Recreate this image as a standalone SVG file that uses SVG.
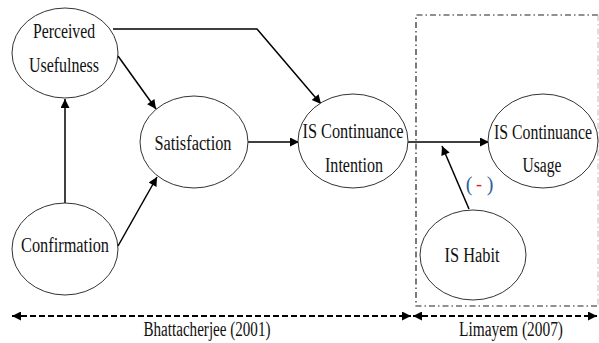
<svg xmlns="http://www.w3.org/2000/svg" width="599" height="343" viewBox="0 0 599 343">
<style>
.node ellipse{fill:#fff;stroke:#333;stroke-width:1}
.t{font-family:'Liberation Serif','Times New Roman',serif;font-size:20px;fill:#111;text-anchor:middle}
.conn line,.conn polyline{stroke:#000;stroke-width:1.5;fill:none}
.dash{stroke:#000;stroke-width:2;stroke-dasharray:6 3;fill:none}
</style>
<defs>
<marker id="ah" viewBox="0 0 10 10" refX="10" refY="5" markerWidth="11" markerHeight="9" markerUnits="userSpaceOnUse" orient="auto">
<path d="M0,0 L10,5 L0,10 z" fill="#000"/>
</marker>
<marker id="ahs" viewBox="0 0 10 10" refX="10" refY="5" markerWidth="10" markerHeight="9" markerUnits="userSpaceOnUse" orient="auto-start-reverse">
<path d="M0,0 L10,5 L0,10 z" fill="#000"/>
</marker>
</defs>
<rect width="599" height="343" fill="#fff"/>
<g id="region">
<path d="M598,15 H416 V306 H598" fill="none" stroke="#222" stroke-width="1.2" stroke-dasharray="6 3 1.5 3"/>
<line x1="598" y1="15" x2="598" y2="306" stroke="#bbb" stroke-width="1" stroke-dasharray="6 3 1.5 3"/>
</g>
<g class="conn" id="connectors">
<polyline points="113,29 257,29 321,104" marker-end="url(#ah)"/>
<line x1="118" y1="56" x2="156" y2="109" marker-end="url(#ah)"/>
<line x1="65" y1="203" x2="65" y2="99" marker-end="url(#ah)"/>
<line x1="118" y1="246" x2="157" y2="177" marker-end="url(#ah)"/>
<line x1="248" y1="142" x2="299" y2="142" marker-end="url(#ah)"/>
<line x1="408" y1="142" x2="489" y2="142" marker-end="url(#ah)"/>
<line x1="469" y1="209" x2="442" y2="146" marker-end="url(#ah)"/>
</g>
<g id="PU" class="node"><ellipse cx="65" cy="53" rx="53" ry="45"/>
<text class="t" x="64" y="38" textLength="62" lengthAdjust="spacingAndGlyphs">Perceived</text>
<text class="t" x="64" y="72" textLength="70" lengthAdjust="spacingAndGlyphs">Usefulness</text></g>
<g id="SAT" class="node"><ellipse cx="194" cy="142" rx="54" ry="46"/>
<text class="t" x="193" y="150" textLength="77" lengthAdjust="spacingAndGlyphs">Satisfaction</text></g>
<g id="ISCI" class="node"><ellipse cx="353" cy="141" rx="55" ry="47"/>
<text class="t" x="353" y="138" textLength="101" lengthAdjust="spacingAndGlyphs">IS Continuance</text>
<text class="t" x="354" y="172" textLength="58" lengthAdjust="spacingAndGlyphs">Intention</text></g>
<g id="ISCU" class="node"><ellipse cx="543" cy="141" rx="55" ry="47"/>
<text class="t" x="543" y="139" textLength="98" lengthAdjust="spacingAndGlyphs">IS Continuance</text>
<text class="t" x="542" y="172" textLength="39" lengthAdjust="spacingAndGlyphs">Usage</text></g>
<g id="CONF" class="node"><ellipse cx="65" cy="249" rx="53" ry="46"/>
<text class="t" x="65" y="252" textLength="88" lengthAdjust="spacingAndGlyphs">Confirmation</text></g>
<g id="HABIT" class="node"><ellipse cx="473" cy="255" rx="53" ry="45"/>
<text class="t" x="472" y="262" textLength="55" lengthAdjust="spacingAndGlyphs">IS Habit</text></g>
<g id="neg">
<text class="t" x="469" y="191" style="fill:#2e5f9e">(</text>
<text class="t" x="479" y="190" style="fill:#e02020;font-size:18px">-</text>
<text class="t" x="490" y="191" style="fill:#2e5f9e">)</text>
</g>
<g id="spans">
<line class="dash" x1="12" y1="316" x2="411" y2="316" marker-start="url(#ahs)" marker-end="url(#ahs)"/>
<line class="dash" x1="413" y1="316" x2="597" y2="316" marker-start="url(#ahs)" marker-end="url(#ahs)"/>
<text class="t" x="207" y="336" textLength="127" lengthAdjust="spacingAndGlyphs">Bhattacherjee (2001)</text>
<text class="t" x="511" y="336" textLength="104" lengthAdjust="spacingAndGlyphs">Limayem (2007)</text>
</g>
</svg>
